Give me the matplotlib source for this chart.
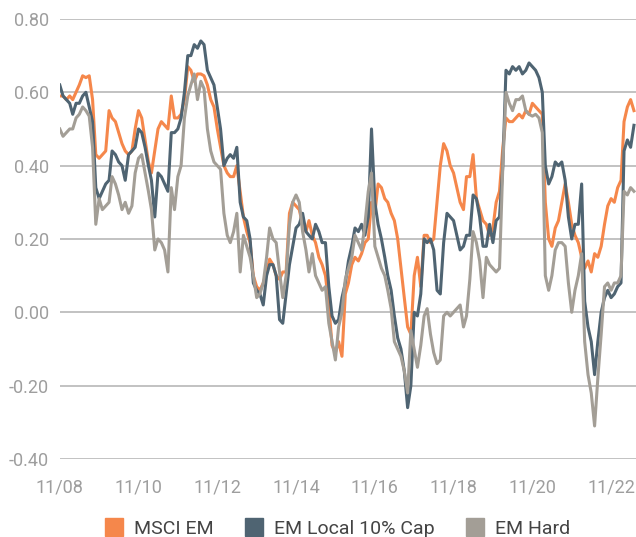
import matplotlib
matplotlib.use("Agg")
import matplotlib.pyplot as plt
import matplotlib.dates as mdates
from matplotlib.lines import Line2D
import pandas as pd

# ---------------- data (monthly, Nov 2008 .. Jun 2023) ----------------
start = "2008-11-01"
n_months = 176

msci_em = [
    0.59, 0.59, 0.58, 0.59, 0.58, 0.60, 0.62, 0.645, 0.64, 0.645,
    0.58, 0.43, 0.42, 0.43, 0.44, 0.55, 0.53, 0.52, 0.49, 0.46,
    0.44, 0.43, 0.44, 0.50, 0.55, 0.53, 0.47, 0.41, 0.38, 0.44,
    0.50, 0.52, 0.51, 0.50, 0.59, 0.53, 0.53, 0.54, 0.58, 0.67,
    0.66, 0.63, 0.65, 0.65, 0.645, 0.62, 0.58, 0.56, 0.50, 0.45,
    0.40, 0.38, 0.37, 0.37, 0.40, 0.33, 0.26, 0.22, 0.19, 0.10,
    0.07, 0.06, 0.08, 0.11, 0.145, 0.13, 0.10, 0.09, 0.11, 0.11,
    0.27, 0.30, 0.29, 0.28, 0.24, 0.22, 0.25, 0.21, 0.19, 0.15,
    0.13, 0.10, 0.02, -0.09, -0.11, -0.08, -0.12, 0.05, 0.08, 0.13,
    0.15, 0.14, 0.16, 0.19, 0.20, 0.30, 0.27, 0.35, 0.34, 0.31,
    0.30, 0.27, 0.25, 0.20, 0.12, 0.04, -0.04, -0.06, 0.10, 0.15,
    0.07, 0.21, 0.21, 0.19, 0.20, 0.30, 0.40, 0.46, 0.44, 0.40,
    0.38, 0.34, 0.30, 0.28, 0.37, 0.37, 0.43, 0.31, 0.28, 0.25,
    0.24, 0.21, 0.23, 0.30, 0.33, 0.45, 0.53, 0.52, 0.52, 0.53,
    0.54, 0.53, 0.55, 0.54, 0.57, 0.56, 0.55, 0.54, 0.30, 0.20,
    0.18, 0.23, 0.25, 0.30, 0.35, 0.30, 0.24, 0.21, 0.19, 0.15,
    0.12, 0.14, 0.11, 0.16, 0.15, 0.18, 0.24, 0.29, 0.31, 0.30,
    0.34, 0.36, 0.52, 0.56, 0.58, 0.55,
]

em_local_10cap = [
    0.62, 0.59, 0.58, 0.57, 0.54, 0.57, 0.57, 0.59, 0.60, 0.56,
    0.52, 0.34, 0.31, 0.33, 0.35, 0.36, 0.44, 0.43, 0.41, 0.40,
    0.36, 0.43, 0.44, 0.45, 0.50, 0.49, 0.45, 0.40, 0.36, 0.26,
    0.38, 0.37, 0.35, 0.33, 0.49, 0.49, 0.50, 0.53, 0.60, 0.70,
    0.70, 0.73, 0.72, 0.74, 0.73, 0.66, 0.64, 0.62, 0.56, 0.50,
    0.40, 0.42, 0.43, 0.42, 0.45, 0.30, 0.26, 0.25, 0.20, 0.08,
    0.06, 0.05, 0.02, 0.10, 0.13, 0.13, 0.10, -0.02, -0.03, 0.05,
    0.13, 0.18, 0.23, 0.24, 0.27, 0.22, 0.21, 0.20, 0.24, 0.22,
    0.19, 0.19, 0.07, -0.01, -0.03, -0.02, 0.04, 0.08, 0.14, 0.18,
    0.23, 0.22, 0.24, 0.21, 0.26, 0.50, 0.30, 0.24, 0.20, 0.15,
    0.10, 0.06, -0.01, -0.07, -0.10, -0.16, -0.26, -0.20, 0.00, -0.01,
    0.05, 0.20, 0.19, 0.20, 0.17, 0.06, 0.05, 0.19, 0.27, 0.26,
    0.25, 0.21, 0.17, 0.18, 0.21, 0.21, 0.32, 0.31, 0.26, 0.18,
    0.18, 0.24, 0.19, 0.25, 0.26, 0.40, 0.66, 0.65, 0.67, 0.66,
    0.67, 0.65, 0.66, 0.68, 0.67, 0.66, 0.64, 0.60, 0.40, 0.35,
    0.37, 0.41, 0.40, 0.41, 0.36, 0.26, 0.20, 0.24, 0.24, 0.35,
    0.03, -0.04, -0.08, -0.17, -0.08, 0.00, 0.04, 0.06, 0.04, 0.05,
    0.07, 0.08, 0.44, 0.47, 0.45, 0.51,
]

em_hard = [
    0.50, 0.48, 0.49, 0.50, 0.50, 0.53, 0.54, 0.56, 0.55, 0.535,
    0.45, 0.24, 0.31, 0.28, 0.29, 0.30, 0.37, 0.35, 0.32, 0.28,
    0.30, 0.27, 0.29, 0.38, 0.42, 0.43, 0.38, 0.33, 0.28, 0.17,
    0.20, 0.19, 0.17, 0.11, 0.34, 0.28, 0.37, 0.40, 0.53, 0.59,
    0.62, 0.65, 0.58, 0.63, 0.61, 0.50, 0.44, 0.41, 0.40, 0.39,
    0.27, 0.21, 0.19, 0.22, 0.27, 0.11, 0.21, 0.18, 0.15, 0.10,
    0.04, 0.05, 0.08, 0.15, 0.23, 0.20, 0.19, 0.11, 0.04, 0.10,
    0.24, 0.30, 0.32, 0.30, 0.22, 0.17, 0.11, 0.16, 0.10, 0.08,
    0.06, 0.07, -0.03, -0.08, -0.13, -0.04, 0.00, 0.09, 0.12, 0.15,
    0.21, 0.19, 0.17, 0.24, 0.33, 0.38, 0.18, 0.15, 0.12, 0.10,
    0.06, 0.01, -0.08, -0.10, -0.12, -0.16, -0.22, -0.05, -0.10, -0.15,
    -0.09, -0.01, 0.01, -0.06, -0.11, -0.14, -0.13, -0.01, 0.00, -0.01,
    0.00, 0.01, 0.02, -0.04, -0.01, 0.09, 0.22, 0.19, 0.14, 0.04,
    0.15, 0.13, 0.12, 0.11, 0.12, 0.40, 0.60, 0.57, 0.55, 0.58,
    0.58, 0.59, 0.55, 0.54, 0.535, 0.54, 0.53, 0.49, 0.10, 0.06,
    0.10, 0.17, 0.19, 0.19, 0.18, 0.08, 0.00, 0.06, 0.10, 0.16,
    -0.08, -0.17, -0.22, -0.31, -0.18, -0.06, 0.07, 0.08, 0.06, 0.08,
    0.08, 0.10, 0.33, 0.32, 0.34, 0.33,
]

series_names = ["MSCI EM", "EM Local 10% Cap", "EM Hard"]
series_colors = ["#F5874B", "#4F6472", "#A39E96"]
y_ticks = [-0.40, -0.20, 0.00, 0.20, 0.40, 0.60, 0.80]
x_tick_years = [2008, 2010, 2012, 2014, 2016, 2018, 2020, 2022]

dates = pd.date_range(start, periods=n_months, freq="MS")

# ---------------- figure ----------------
plt.rcParams["font.family"] = ["Roboto", "DejaVu Sans"]
fig = plt.figure(figsize=(6.36, 5.37), dpi=100)
ax = fig.add_axes([0.094, 0.1453, 0.906, 0.8194])

for vals, name, col in zip([msci_em, em_local_10cap, em_hard], series_names, series_colors):
    ax.plot(dates, vals, color=col, lw=2.2, label=name, solid_joinstyle="round")

ax.set_ylim(-0.40, 0.80)
ax.set_xlim(pd.Timestamp("2008-11-01"), pd.Timestamp("2023-06-20"))
ax.set_yticks(y_ticks)
ax.set_yticklabels([f"{v:.2f}" for v in y_ticks])
ax.set_xticks([pd.Timestamp(f"{y}-11-01") for y in x_tick_years])
ax.set_xticklabels([f"11/{y % 100:02d}" for y in x_tick_years])

ax.grid(axis="y", color="#BDBDBD", lw=1.3)
ax.set_axisbelow(True)
for s in ax.spines.values():
    s.set_visible(False)
ax.tick_params(axis="both", length=0, labelcolor="#9E9E9E", labelsize=13)
ax.tick_params(axis="y", pad=8)
ax.tick_params(axis="x", pad=14)

handles = [Line2D([], [], marker="s", ls="none", markersize=13, color=c) for c in series_colors]
fig.legend(handles, series_names, loc="lower center", bbox_to_anchor=(0.53, -0.035),
           ncol=3, frameon=False, fontsize=14, handletextpad=0.5, columnspacing=1.6,
           labelcolor="#444444", handlelength=1.0)

fig.savefig("out.png", dpi=100)
